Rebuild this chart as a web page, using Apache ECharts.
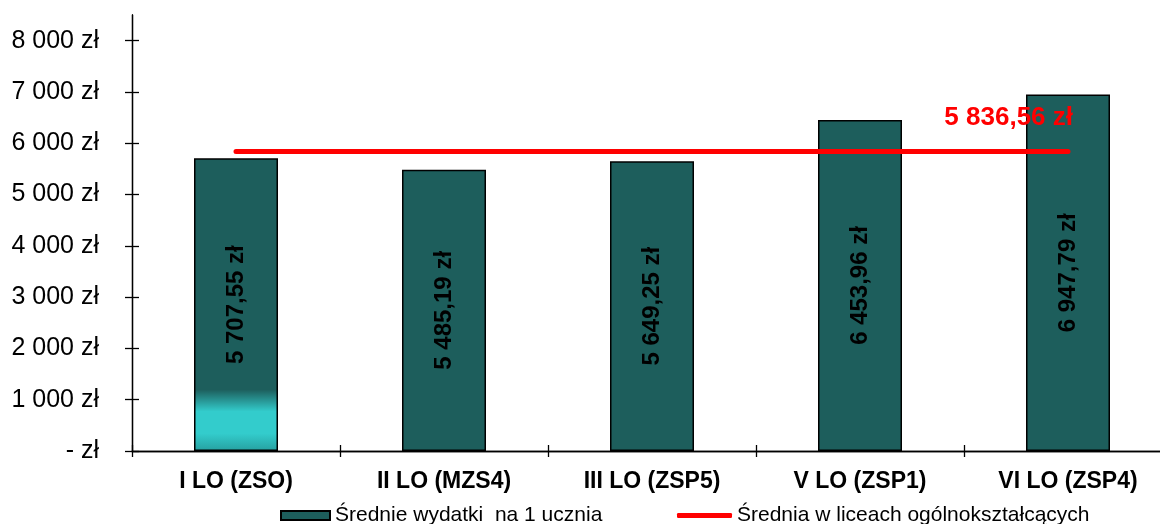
<!DOCTYPE html>
<html>
<head>
<meta charset="utf-8">
<script src="https://cdn.jsdelivr.net/npm/echarts@6/dist/echarts.min.js"></script>
<style>
html,body{margin:0;padding:0;background:#fff;}
#chart{width:1160px;height:524px;}
</style>
</head>
<body>
<div id="chart"></div>
<script>
var categories = ['I LO (ZSO)', 'II LO (MZS4)', 'III LO (ZSP5)', 'V LO (ZSP1)', 'VI LO (ZSP4)'];
var spending = [5707.55, 5485.19, 5649.25, 6453.96, 6947.79];
var average = [5836.56, 5836.56, 5836.56, 5836.56, 5836.56];
var yTicks = [0, 1000, 2000, 3000, 4000, 5000, 6000, 7000, 8000];
var seriesNames = ['Średnie wydatki  na 1 ucznia', 'Średnia w liceach ogólnokształcących'];

var FONT = 'Liberation Sans, Arial, sans-serif';
var BAR = '#1d5e5c';

function fmt(v, dec) {
  var s = dec ? v.toFixed(2) : String(Math.round(v));
  var parts = s.split('.');
  var ip = parts[0].replace(/\B(?=(\d{3})+(?!\d))/g, ' ');
  return ip + (parts[1] ? ',' + parts[1] : '');
}

var barData = spending.map(function (v, i) {
  if (i === 0) {
    return {
      value: v,
      itemStyle: {
        color: {
          type: 'linear', x: 0, y: 0, x2: 0, y2: 1,
          colorStops: [
            { offset: 0, color: BAR },
            { offset: 0.79, color: BAR },
            { offset: 0.865, color: '#33cccc' },
            { offset: 0.94, color: '#33cccc' },
            { offset: 1, color: '#26a0a0' }
          ]
        }
      }
    };
  }
  return v;
});

var lineData = average.map(function (v, i) {
  return i === average.length - 1 ? { value: v, label: { show: true } } : v;
});

function gridBox() {
  return { left: 132, top: 15, width: 1040, height: 436, outerBoundsMode: 'none' };
}
function stroke() { return { color: '#000', width: 1.3 }; }

var option = {
  animation: false,
  grid: [gridBox(), gridBox()],
  xAxis: [
    {
      type: 'category', data: categories, gridIndex: 0,
      axisLine: { show: true, lineStyle: stroke() },
      axisTick: { show: true, inside: false, length: 6, lineStyle: stroke() },
      axisLabel: { color: '#000', fontFamily: FONT, fontWeight: 'bold', fontSize: 23, margin: 19 }
    },
    {
      type: 'category', data: categories, gridIndex: 1,
      axisLine: { show: true, lineStyle: stroke() },
      axisTick: { show: true, inside: true, length: 6, lineStyle: stroke() },
      axisLabel: { show: false }
    }
  ],
  yAxis: [
    {
      type: 'value', min: 0, max: 8500, interval: 1000, gridIndex: 0,
      splitLine: { show: false },
      axisLine: { show: true, lineStyle: stroke() },
      axisTick: { show: true, inside: false, length: 7, customValues: yTicks, lineStyle: stroke() },
      axisLabel: {
        customValues: yTicks,
        color: '#000', fontFamily: FONT, fontSize: 25, margin: 33,
        formatter: function (v) { return v === 0 ? '- zł' : fmt(v, false) + ' zł'; }
      }
    },
    {
      type: 'value', min: 0, max: 8500, interval: 1000, gridIndex: 1,
      splitLine: { show: false },
      axisLine: { show: true, lineStyle: stroke() },
      axisTick: { show: true, inside: true, length: 7, customValues: yTicks, lineStyle: stroke() },
      axisLabel: { show: false }
    }
  ],
  legend: [
    {
      left: 275, top: 500, itemWidth: 49, itemHeight: 9, itemGap: 0,
      data: [{ name: seriesNames[0], icon: 'rect' }],
      textStyle: { color: '#000', fontFamily: FONT, fontSize: 21 }
    },
    {
      left: 672, top: 500, itemWidth: 55, itemHeight: 5, itemGap: 0,
      data: [{ name: seriesNames[1], icon: 'roundRect' }],
      itemStyle: { color: '#ff0000', borderWidth: 0 },
      textStyle: { color: '#000', fontFamily: FONT, fontSize: 21 }
    }
  ],
  series: [
    {
      name: seriesNames[0], type: 'bar', data: barData, xAxisIndex: 0, yAxisIndex: 0,
      barWidth: 84,
      itemStyle: { color: BAR, borderColor: '#000', borderWidth: 1.5 },
      label: {
        show: true, position: 'inside', rotate: 90,
        color: '#000', fontFamily: FONT, fontWeight: 'bold', fontSize: 24,
        formatter: function (p) { return fmt(p.value, true) + ' zł'; }
      }
    },
    {
      name: seriesNames[1], type: 'line', data: lineData, xAxisIndex: 1, yAxisIndex: 1,
      symbol: 'circle', symbolSize: 0, showSymbol: true,
      lineStyle: { color: '#ff0000', width: 5, cap: 'round' },
      itemStyle: { color: '#ff0000' },
      label: {
        show: false, position: 'top', align: 'right', offset: [5, -16],
        color: '#ff0000', fontFamily: FONT, fontWeight: 'bold', fontSize: 26,
        formatter: function (p) { return fmt(p.value, true) + ' zł'; }
      },
      z: 5
    }
  ]
};

var chart = echarts.init(document.getElementById('chart'), null, { renderer: 'canvas' });
chart.setOption(option);
</script>
</body>
</html>
